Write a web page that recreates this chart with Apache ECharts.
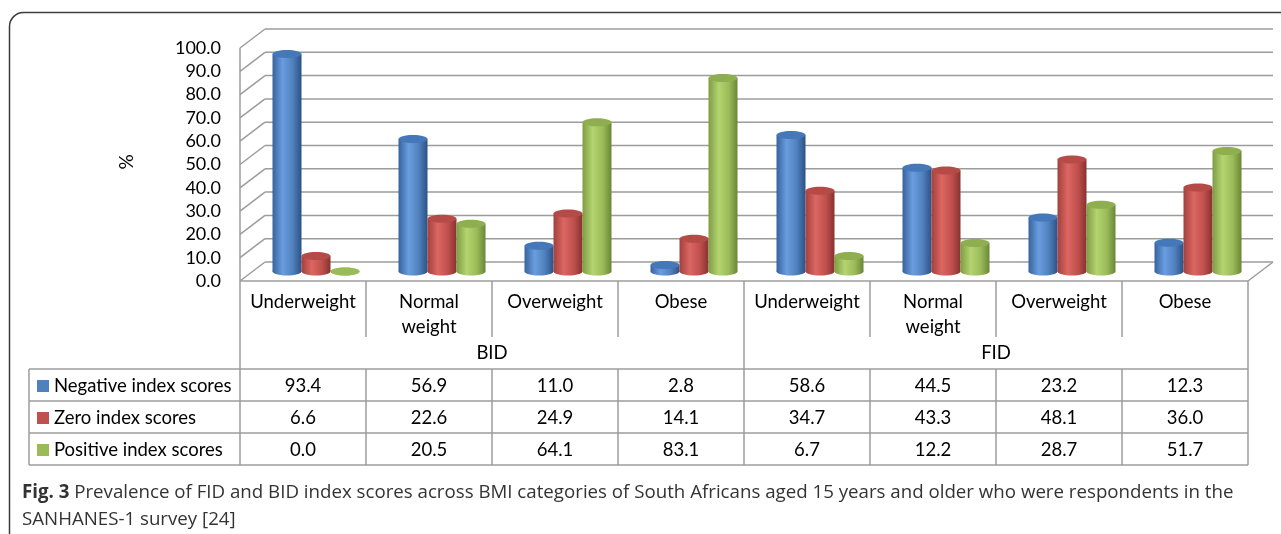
<!DOCTYPE html>
<html>
<head>
<meta charset="utf-8">
<script src="https://cdn.jsdelivr.net/npm/echarts@6/dist/echarts.min.js"></script>
<style>
html, body { margin: 0; padding: 0; background: #fff; }
#chart { width: 1281px; height: 534px; }
</style>
</head>
<body>
<div id="chart"></div>
<script>
// categories and groups
const categories = ['Underweight', 'Normal\nweight', 'Overweight', 'Obese', 'Underweight', 'Normal\nweight', 'Overweight', 'Obese'];
const groups = ['BID', 'FID'];
const seriesNames = ['Negative index scores', 'Zero index scores', 'Positive index scores'];

// values (%)
const negativeScores = [93.4, 56.9, 11.0, 2.8, 58.6, 44.5, 23.2, 12.3];
const zeroScores = [6.6, 22.6, 24.9, 14.1, 34.7, 43.3, 48.1, 36.0];
const positiveScores = [0.0, 20.5, 64.1, 83.1, 6.7, 12.2, 28.7, 51.7];

const yTicks = [0, 10, 20, 30, 40, 50, 60, 70, 80, 90, 100];

const captionBold = 'Fig. 3';
const captionText = ' Prevalence of FID and BID index scores across BMI categories of South Africans aged 15 years and older who were respondents in the\nSANHANES-1 survey [24]';

const allSeries = [negativeScores, zeroScores, positiveScores];

// look
const FONT = 'Lato';
const FS = 18.5;
const GRID_COLOR = '#9c9c9c';
const DEPTH_X = 25, DEPTH_Y = -19;     // back wall offset
const MID_X = 13, MID_Y = -9.5;        // where the bars stand
const BAR_W = 29;
const shades = [
  { c: '#4F81BD', edge: '#36639c', light: '#6a9de0', dark: '#2c5185', top: '#4478b8' },
  { c: '#C0504D', edge: '#a2403d', light: '#dc6662', dark: '#86322f', top: '#b54a47' },
  { c: '#9BBB59', edge: '#7f9c44', light: '#b3d46f', dark: '#6a8637', top: '#8fae50' }
];

const chart = echarts.init(document.getElementById('chart'));

function wallsItem(params, api) {
  const v = api.value(0);
  const left = api.coord([0, v]);
  const right = api.coord([categories.length - 1, v]);
  const hw = api.size([1, 0])[0] / 2;
  const xl = left[0] - hw, xr = right[0] + hw, y = left[1];
  const ls = { stroke: GRID_COLOR, lineWidth: 1.5 };
  const children = [
    { type: 'line', shape: { x1: xl + DEPTH_X, y1: y + DEPTH_Y, x2: xr + DEPTH_X, y2: y + DEPTH_Y }, style: ls },
    { type: 'line', shape: { x1: xl, y1: y, x2: xl + DEPTH_X, y2: y + DEPTH_Y }, style: ls }
  ];
  if (v === 0) {
    const topY = api.coord([0, yTicks[yTicks.length - 1]])[1];
    children.push(
      { type: 'line', shape: { x1: xl, y1: y, x2: xr, y2: y }, style: ls },
      { type: 'line', shape: { x1: xr, y1: y, x2: xr + DEPTH_X, y2: y + DEPTH_Y }, style: ls },
      { type: 'line', shape: { x1: xl, y1: y, x2: xl, y2: topY }, style: ls }
    );
  }
  return { type: 'group', children: children };
}

function cylinderItem(k) {
  const s = shades[k];
  return function (params, api) {
    const i = api.value(0), v = api.value(1);
    const base = api.coord([i, 0]);
    const top = api.coord([i, v]);
    const cx = base[0] + MID_X + (k - 1) * BAR_W;
    const yb = base[1] + MID_Y, yt = top[1] + MID_Y;
    const rx = BAR_W / 2, ry = 4;
    const grad = new echarts.graphic.LinearGradient(0, 0, 1, 0, [
      { offset: 0, color: s.edge },
      { offset: 0.35, color: s.light },
      { offset: 0.7, color: s.c },
      { offset: 1, color: s.dark }
    ]);
    return {
      type: 'group',
      children: [
        { type: 'ellipse', shape: { cx: cx, cy: yb, rx: rx, ry: ry }, style: { fill: grad } },
        { type: 'rect', shape: { x: cx - rx, y: yt, width: BAR_W, height: Math.max(0, yb - yt) }, style: { fill: grad } },
        { type: 'ellipse', shape: { cx: cx, cy: yt, rx: rx, ry: ry }, style: { fill: v > 0 ? s.top : s.c } }
      ]
    };
  };
}

function tableItem(params, api) {
  const i = api.value(0);
  const c = api.coord([i, 0]);
  const w = api.size([1, 0])[0];
  const xl = c[0] - w / 2, xr = c[0] + w / 2;
  const y0 = c[1];
  const catH = 56, grpH = 32, rowH = 32;
  const yData = y0 + catH + grpH;
  const yEnd = yData + rowH * 3;
  const ls = { stroke: GRID_COLOR, lineWidth: 1.5 };
  const ts = { fill: '#000', fontFamily: FONT, fontSize: FS };
  const children = [];
  // vertical lines
  children.push({ type: 'line', shape: { x1: xl, y1: y0, x2: xl, y2: y0 + catH }, style: ls });
  children.push({ type: 'line', shape: { x1: xl, y1: yData, x2: xl, y2: yEnd }, style: ls });
  if (i % 4 === 0) {
    children.push({ type: 'line', shape: { x1: xl, y1: y0 + catH, x2: xl, y2: yData }, style: ls });
    children.push({
      type: 'text',
      style: Object.assign({ text: groups[i / 4], x: xl + 2 * w, y: y0 + catH + grpH / 2, align: 'center', verticalAlign: 'middle' }, ts)
    });
  }
  if (i === categories.length - 1) {
    children.push({ type: 'line', shape: { x1: xr, y1: y0, x2: xr, y2: yEnd }, style: ls });
  }
  // horizontal lines
  const hx0 = i === 0 ? 29 : xl;
  for (let r = 0; r <= 3; r++) {
    const y = yData + r * rowH;
    children.push({ type: 'line', shape: { x1: hx0, y1: y, x2: xr, y2: y }, style: ls });
  }
  // category label
  children.push({
    type: 'text',
    style: Object.assign({ text: categories[i], x: c[0], y: y0 + 9, align: 'center', verticalAlign: 'top', lineHeight: 25 }, ts)
  });
  // values
  allSeries.forEach(function (arr, r) {
    children.push({
      type: 'text',
      style: Object.assign({ text: arr[i].toFixed(1), x: c[0], y: yData + rowH * r + rowH / 2 + 1, align: 'center', verticalAlign: 'middle' }, ts)
    });
  });
  // legend column
  if (i === 0) {
    children.push({ type: 'line', shape: { x1: 29, y1: yData, x2: 29, y2: yEnd }, style: ls });
    seriesNames.forEach(function (name, r) {
      const cy = yData + rowH * r + rowH / 2 + 1;
      children.push({ type: 'rect', shape: { x: 37, y: cy - 6, width: 12, height: 12 }, style: { fill: shades[r].c } });
      children.push({
        type: 'text',
        style: Object.assign({ text: name, x: 54, y: cy, align: 'left', verticalAlign: 'middle' }, ts)
      });
    });
  }
  return { type: 'group', children: children };
}

const option = {
  animation: false,
  grid: { left: 240, right: 33, top: 48, bottom: 253 },
  xAxis: {
    type: 'category',
    data: categories,
    axisLine: { show: false },
    axisTick: { show: false },
    axisLabel: { show: false },
    splitLine: { show: false }
  },
  yAxis: {
    type: 'value',
    min: 0,
    max: 100,
    interval: 10,
    axisLine: { show: false },
    axisTick: { show: false },
    splitLine: { show: false },
    axisLabel: {
      margin: 19,
      color: '#000',
      fontFamily: FONT,
      fontSize: 18,
      formatter: function (v) { return v.toFixed(1); }
    }
  },
  graphic: [
    {
      type: 'rect',
      shape: { x: 9.5, y: 12.5, width: 1300, height: 600, r: 14 },
      style: { fill: 'none', stroke: '#3c3c3c', lineWidth: 1.5 },
      silent: true
    },
    {
      type: 'text',
      x: 127,
      y: 162,
      rotation: Math.PI / 2,
      style: { text: '%', fill: '#000', fontFamily: FONT, fontSize: 19, align: 'center', verticalAlign: 'middle' }
    },
    {
      type: 'text',
      left: 22,
      top: 479,
      style: {
        text: '{b|' + captionBold + '}' + captionText,
        fill: '#333',
        fontFamily: 'Open Sans',
        fontSize: 18.7,
        lineHeight: 27,
        rich: { b: { fontWeight: 'bold', fill: '#333', fontFamily: 'Open Sans', fontSize: 18.7, lineHeight: 27 } }
      }
    }
  ],
  series: [
    {
      type: 'custom',
      name: 'walls',
      renderItem: wallsItem,
      data: yTicks.map(function (t) { return [t]; }),
      encode: { y: 0 },
      z: 1,
      silent: true
    }
  ].concat(allSeries.map(function (arr, k) {
    return {
      type: 'custom',
      name: seriesNames[k],
      renderItem: cylinderItem(k),
      data: arr.map(function (v, i) { return [i, v]; }),
      encode: { x: 0, y: 1 },
      z: 2 + k
    };
  })).concat([
    {
      type: 'custom',
      name: 'table',
      renderItem: tableItem,
      data: categories.map(function (c, i) { return [i]; }),
      encode: { x: 0 },
      z: 6,
      silent: true
    }
  ])
};

chart.setOption(option);
</script>
</body>
</html>
